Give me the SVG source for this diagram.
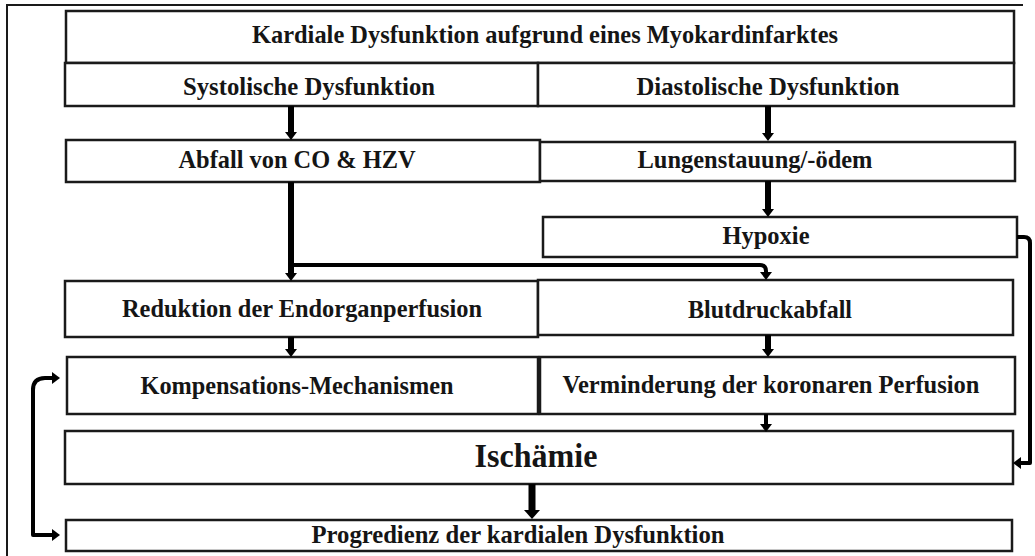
<svg xmlns="http://www.w3.org/2000/svg" width="1035" height="556" viewBox="0 0 1035 556">
  <style>
    .box { fill: #ffffff; stroke: #1a1a1a; stroke-width: 2.5; }
    .lbl { font-family: "Liberation Serif", "Times New Roman", serif; font-weight: bold; font-size: 25px; fill: #151515; text-anchor: middle; }
    .big { font-size: 34px; }
    .wire { fill: none; stroke: #000; stroke-linejoin: round; }
  </style>
  <defs>
    <!-- arrowhead whose base sits at the end of the line -->
    <marker id="head" viewBox="0 0 8 12" refX="0" refY="6" markerWidth="8" markerHeight="12" markerUnits="userSpaceOnUse" orient="auto">
      <path d="M0,0 L8,6 L0,12 z" fill="#000"/>
    </marker>
    <marker id="headWide" viewBox="0 0 9 16" refX="0" refY="8" markerWidth="9" markerHeight="16" markerUnits="userSpaceOnUse" orient="auto">
      <path d="M0,0 L9,8 L0,16 z" fill="#000"/>
    </marker>
  </defs>

  <rect x="0" y="0" width="1035" height="556" fill="#ffffff"/>

  <!-- outer frame -->
  <path d="M7,556 V5 H1023" fill="none" stroke="#1a1a1a" stroke-width="2"/>

  <g id="title">
    <rect class="box" x="66" y="11" width="948" height="52"/>
    <text class="lbl" x="545" y="43" textLength="586" lengthAdjust="spacingAndGlyphs">Kardiale Dysfunktion aufgrund eines Myokardinfarktes</text>
  </g>

  <g id="systolic">
    <rect class="box" x="65" y="63" width="473" height="43"/>
    <text class="lbl" x="309" y="95" textLength="252" lengthAdjust="spacingAndGlyphs">Systolische Dysfunktion</text>
  </g>
  <g id="diastolic">
    <rect class="box" x="538" y="63" width="476" height="43"/>
    <text class="lbl" x="768" y="95" textLength="263" lengthAdjust="spacingAndGlyphs">Diastolische Dysfunktion</text>
  </g>

  <g id="output-drop">
    <rect class="box" x="66" y="140" width="474" height="42"/>
    <text class="lbl" x="297" y="168" textLength="237" lengthAdjust="spacingAndGlyphs">Abfall von CO &amp; HZV</text>
  </g>
  <g id="lung-congestion">
    <rect class="box" x="540" y="142" width="475" height="39"/>
    <text class="lbl" x="755" y="168" textLength="235" lengthAdjust="spacingAndGlyphs">Lungenstauung/-ödem</text>
  </g>

  <g id="hypoxia">
    <rect class="box" x="543" y="217" width="474" height="40"/>
    <text class="lbl" x="766" y="244" textLength="87" lengthAdjust="spacingAndGlyphs">Hypoxie</text>
  </g>

  <g id="organ-perfusion">
    <rect class="box" x="65" y="281" width="473" height="56"/>
    <text class="lbl" x="302" y="317" textLength="360" lengthAdjust="spacingAndGlyphs">Reduktion der Endorganperfusion</text>
  </g>
  <g id="blood-pressure">
    <rect class="box" x="538" y="280" width="475" height="55"/>
    <text class="lbl" x="770" y="318" textLength="164" lengthAdjust="spacingAndGlyphs">Blutdruckabfall</text>
  </g>

  <g id="compensation">
    <rect class="box" x="67" y="357" width="471" height="57"/>
    <text class="lbl" x="297" y="394" textLength="313" lengthAdjust="spacingAndGlyphs">Kompensations-Mechanismen</text>
  </g>
  <g id="coronary-perfusion">
    <rect class="box" x="540" y="357" width="475" height="57"/>
    <text class="lbl" x="771" y="393" textLength="417" lengthAdjust="spacingAndGlyphs">Verminderung der koronaren Perfusion</text>
  </g>

  <g id="ischemia">
    <rect class="box" x="65" y="431" width="948" height="53"/>
    <text class="lbl big" x="536" y="467" textLength="123" lengthAdjust="spacingAndGlyphs">Ischämie</text>
  </g>

  <g id="progression">
    <rect class="box" x="66" y="520" width="946" height="31"/>
    <text class="lbl" x="518" y="543" textLength="413" lengthAdjust="spacingAndGlyphs">Progredienz der kardialen Dysfunktion</text>
  </g>

  <g id="connectors">
    <line class="wire" x1="291" y1="106" x2="291" y2="132" stroke-width="6" marker-end="url(#head)"/>
    <line class="wire" x1="768" y1="106" x2="768" y2="133" stroke-width="6" marker-end="url(#head)"/>
    <line class="wire" x1="291" y1="182" x2="291" y2="273" stroke-width="6" marker-end="url(#head)"/>
    <path class="wire" d="M291,265 H760 Q766,265 766,271 V272" stroke-width="4" marker-end="url(#head)"/>
    <line class="wire" x1="768" y1="181" x2="768" y2="209" stroke-width="6" marker-end="url(#head)"/>
    <line class="wire" x1="291" y1="337" x2="291" y2="349" stroke-width="6" marker-end="url(#head)"/>
    <line class="wire" x1="768" y1="335" x2="768" y2="349" stroke-width="6" marker-end="url(#head)"/>
    <line class="wire" x1="766" y1="414" x2="766" y2="424" stroke-width="4" marker-end="url(#head)"/>
    <line class="wire" x1="532" y1="484" x2="532" y2="510" stroke-width="7" marker-end="url(#headWide)"/>
    <path class="wire" d="M1017,237 H1024 Q1030,237 1030,243 V463 H1021" stroke-width="4" marker-end="url(#head)"/>
    <path class="wire" d="M33,390 Q33,378 45,378 H52" stroke-width="4" marker-end="url(#head)"/>
    <path class="wire" d="M33,388 V535 H52" stroke-width="4" marker-end="url(#head)"/>
  </g>
</svg>
